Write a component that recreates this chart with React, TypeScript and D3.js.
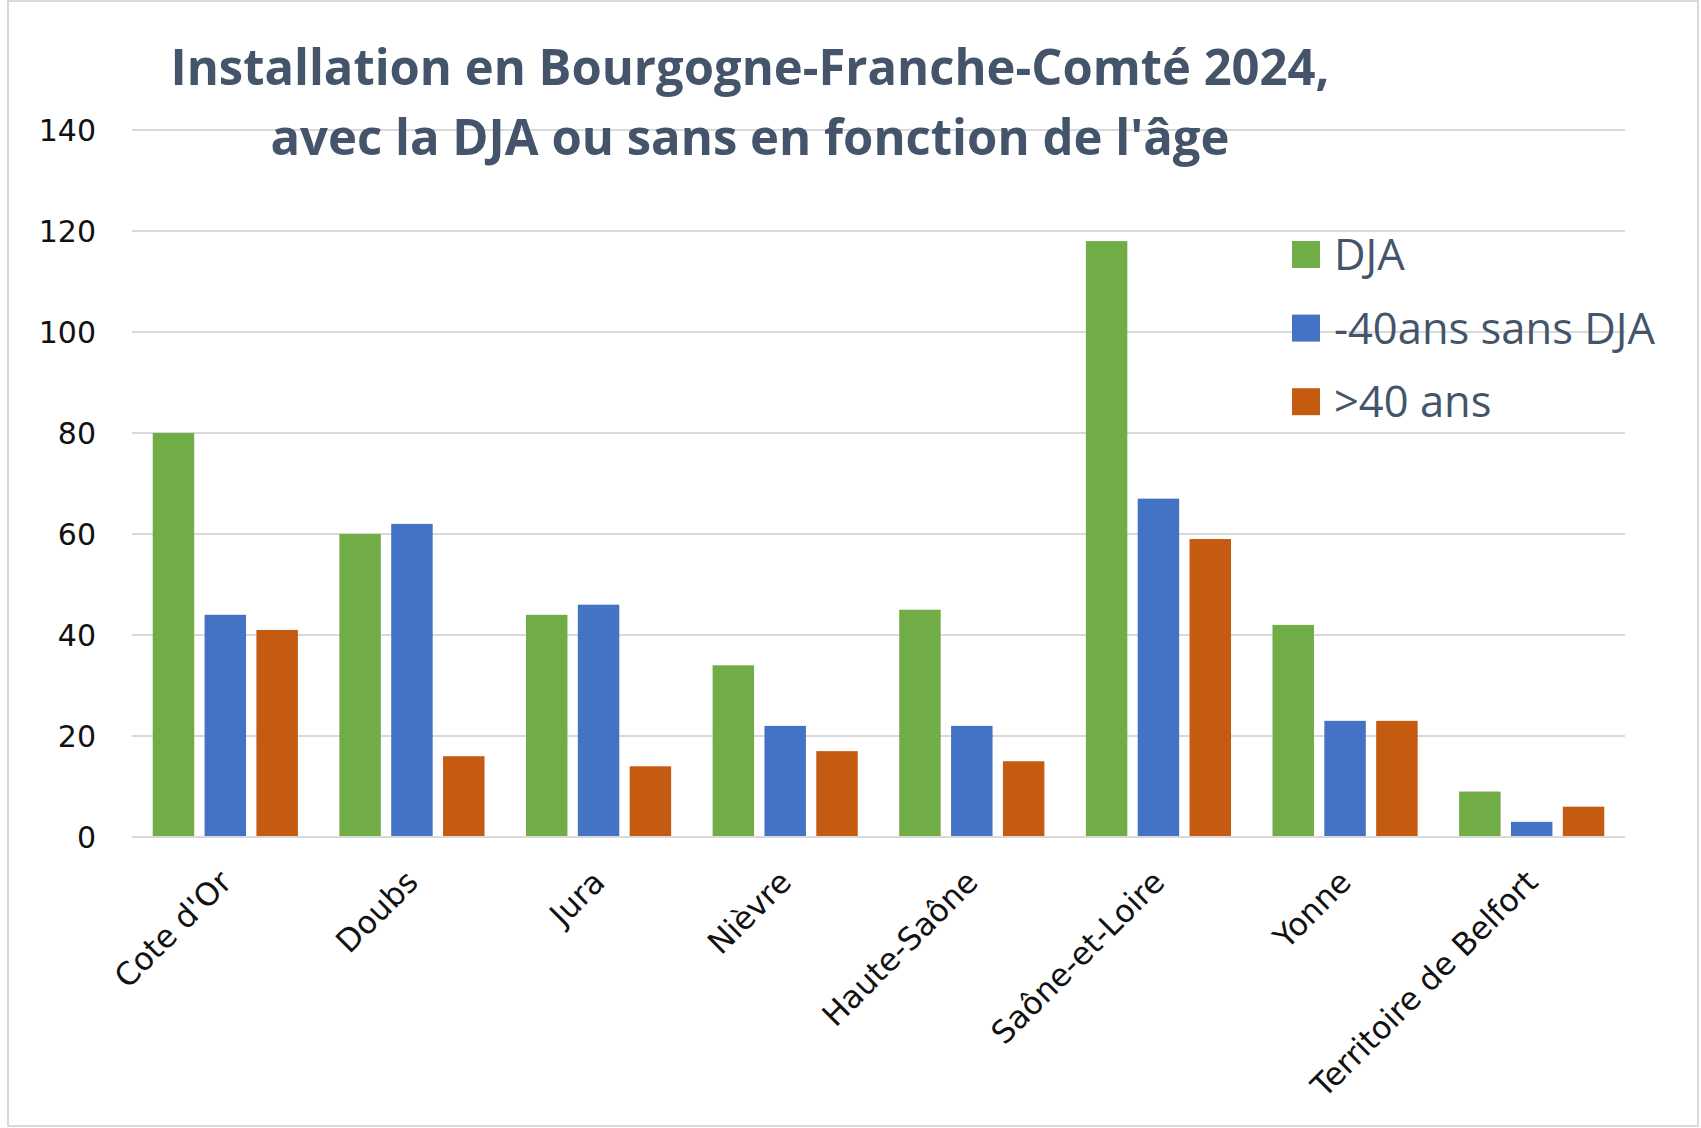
import React, { useEffect, useRef } from "react";
import * as d3 from "d3";

const categories = ["Cote d'Or", "Doubs", "Jura", "Nièvre", "Haute-Saône", "Saône-et-Loire", "Yonne", "Territoire de Belfort"];
const seriesNames = ["DJA", "-40ans sans DJA", ">40 ans"];
const djaValues = [80, 60, 44, 34, 45, 118, 42, 9];
const moins40Values = [44, 62, 46, 22, 22, 67, 23, 3];
const plus40Values = [41, 16, 14, 17, 15, 59, 23, 6];
const seriesColors = ["#70AD47", "#4472C4", "#C55A11"];
const yTicks = [0, 20, 40, 60, 80, 100, 120, 140];
const titleLines = ["Installation en Bourgogne-Franche-Comté 2024,", "avec la DJA ou sans en fonction de l'âge"];

const W = 1701;
const H = 1128;

export default function App() {
  const ref = useRef<SVGSVGElement | null>(null);

  useEffect(() => {
    const svg = d3.select(ref.current);
    svg.selectAll("*").remove();

    const values = [djaValues, moins40Values, plus40Values];

    const x0 = d3.scaleBand<string>().domain(categories).range([132, 1625]).paddingInner(0).paddingOuter(0);
    const x1 = d3.scaleBand<string>().domain(seriesNames).range([0, x0.bandwidth()]).paddingInner(0.2).paddingOuter(0.4);
    const y = d3.scaleLinear().domain([0, 140]).range([837, 130]);

    svg.append("rect").attr("x", 0).attr("y", 0).attr("width", W).attr("height", H).attr("fill", "#ffffff");
    svg.append("rect").attr("x", 8).attr("y", 1).attr("width", 1690).attr("height", 1125)
      .attr("fill", "none").attr("stroke", "#D9D9D9").attr("stroke-width", 2);

    // gridlines
    svg.append("g").selectAll("line").data(yTicks).join("line")
      .attr("x1", 132).attr("x2", 1625)
      .attr("y1", (d) => y(d)).attr("y2", (d) => y(d))
      .attr("stroke", "#D9D9D9").attr("stroke-width", 2);

    // y tick labels
    svg.append("g").selectAll("text").data(yTicks).join("text")
      .attr("x", 96).attr("y", (d) => y(d))
      .attr("dy", "0.36em")
      .attr("text-anchor", "end")
      .attr("font-family", "DejaVu Sans")
      .attr("font-size", 30)
      .attr("fill", "#111")
      .text((d) => String(d));

    // bars
    const g = svg.append("g");
    categories.forEach((c, ci) => {
      seriesNames.forEach((s, si) => {
        const v = values[si][ci];
        g.append("rect")
          .attr("x", (x0(c) ?? 0) + (x1(s) ?? 0))
          .attr("y", y(v))
          .attr("width", x1.bandwidth())
          .attr("height", y(0) - y(v))
          .attr("fill", seriesColors[si]);
      });
    });

    // x axis line
    svg.append("line").attr("x1", 132).attr("x2", 1625).attr("y1", y(0)).attr("y2", y(0))
      .attr("stroke", "#D9D9D9").attr("stroke-width", 2);

    // x labels
    svg.append("g").selectAll("text").data(categories).join("text")
      .attr("transform", (d) => `translate(${(x0(d) ?? 0) + x0.bandwidth() / 2 + 8},${884}) rotate(-45)`)
      .attr("text-anchor", "end")
      .attr("font-family", "DejaVu Sans")
      .attr("font-size", 31.5)
      .attr("fill", "#111")
      .text((d) => d);

    // title
    const tl = [1159, 959];
    const tb = [85, 155];
    titleLines.forEach((t, i) => {
      svg.append("text")
        .attr("x", 750).attr("y", tb[i])
        .attr("text-anchor", "middle")
        .attr("font-family", "Open Sans")
        .attr("font-weight", "bold")
        .attr("font-size", 50)
        .attr("fill", "#44546A")
        .attr("textLength", tl[i])
        .attr("lengthAdjust", "spacingAndGlyphs")
        .text(t);
    });

    // legend
    const lg = svg.append("g");
    seriesNames.forEach((s, i) => {
      const cy = 254.5 + i * 73.6;
      lg.append("rect").attr("x", 1292).attr("y", cy - 13.5).attr("width", 28).attr("height", 27).attr("fill", seriesColors[i]);
      lg.append("text").attr("x", 1334).attr("y", cy + 15.5)
        .attr("font-family", "Open Sans")
        .attr("font-size", 43.5)
        .attr("fill", "#44546A")
        .text(s);
    });
  }, []);

  return (
    <svg ref={ref} width={W} height={H} style={{ position: "absolute", left: 0, top: 0, display: "block" }} />
  );
}
